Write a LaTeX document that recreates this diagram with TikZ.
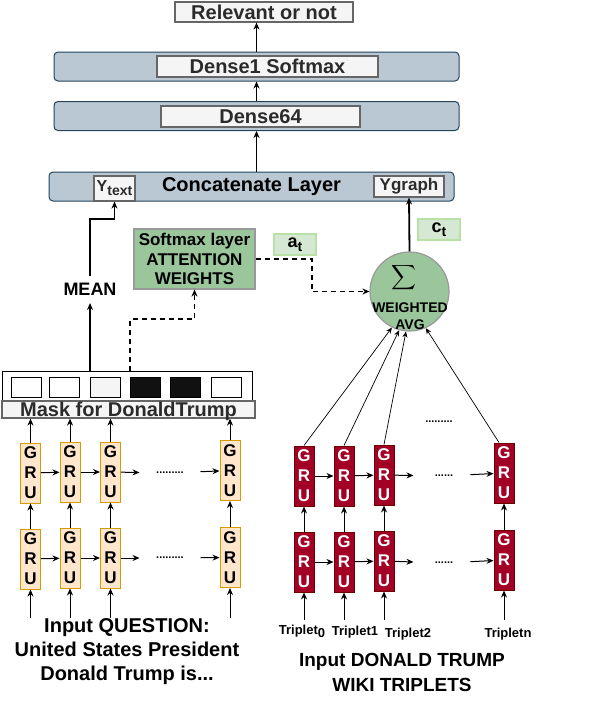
\documentclass[tikz,border=0pt]{standalone}
\usepackage{exscale}
\usepackage{fontspec}
\setmainfont{Liberation Sans}
\usetikzlibrary{positioning,arrows.meta}

\definecolor{layerfill}{HTML}{BAC8D3}
\definecolor{layerdraw}{HTML}{23445D}
\definecolor{boxfill}{HTML}{F5F5F5}
\definecolor{boxdraw}{HTML}{666666}
\definecolor{boxtext}{HTML}{2B2B2B}
\definecolor{gruqfill}{HTML}{FFE6CC}
\definecolor{gruqdraw}{HTML}{D79B00}
\definecolor{grutfill}{HTML}{A20025}
\definecolor{grutdraw}{HTML}{6F0000}
\definecolor{attfill}{HTML}{9BC59B}
\definecolor{attdraw}{HTML}{999999}
\definecolor{lightfill}{HTML}{D5E8D4}
\definecolor{lightdraw}{HTML}{B9E0A5}
\definecolor{maskdark}{HTML}{111111}

\tikzset{
  layer/.style={draw=layerdraw, fill=layerfill, rounded corners=4pt, minimum width=405pt, minimum height=29pt, inner sep=0pt},
  inbox/.style={draw=boxdraw, fill=boxfill, line width=1.2pt, text=boxtext, inner sep=0pt, font=\fontsize{20}{24}\selectfont\bfseries},
  gruq/.style={draw=gruqdraw, fill=gruqfill, line width=1pt, minimum width=20pt, minimum height=60pt, inner sep=0pt, align=center, font=\fontsize{17}{20}\selectfont\bfseries},
  grut/.style={gruq, draw=grutdraw, fill=grutfill, text=white},
  dotrow/.style={minimum width=60pt, inner sep=0pt, font=\fontsize{11}{11}\selectfont\bfseries},
  smallbox/.style={draw=lightdraw, fill=lightfill, line width=1.2pt, minimum width=42pt, minimum height=21pt, inner sep=0pt, font=\fontsize{18}{18}\selectfont\bfseries},
  dashline/.style={line width=1.3pt, dash pattern=on 5pt off 4pt},
  bigtext/.style={align=center, font=\fontsize{20}{24}\selectfont\bfseries},
}

\begin{document}
\begin{tikzpicture}[x=1pt, y=-1pt, >={Stealth[length=7pt,width=6pt]}, line width=1pt]
\useasboundingbox (0,0) rectangle (594,704);

% top of the network
\node[inbox, minimum width=178pt, minimum height=20pt] (relevant) at (264,12) {Relevant or not};
\node[layer] (dense1) at (256.5,66.5) {};
\node[inbox, minimum width=221pt, minimum height=21pt] (dense1in) at (267.5,66.5) {Dense1 Softmax};
\node[layer] (dense64) at (256.5,116) {};
\node[inbox, minimum width=199pt, minimum height=21pt] (dense64in) at (260.5,116.5) {Dense64};
\node[layer, font=\fontsize{20}{24}\selectfont\bfseries] (concat) at (251.5,186.5) {Concatenate Layer};
\node[inbox, minimum width=41pt, minimum height=25pt, font=\fontsize{16}{16}\selectfont\bfseries] (ytext) at (114.5,188.5) {Y\raisebox{-4pt}{\fontsize{14}{14}\selectfont text}};
\node[inbox, minimum width=70pt, minimum height=21pt, font=\fontsize{17}{17}\selectfont\bfseries] (ygraph) at (409,186.5) {Ygraph};

\draw[->] (dense1.north) -- (dense1.north |- relevant.south);
\draw[->] (dense64.north) -- (dense1.south);
\draw[->] (dense64.south |- concat.north) -- (dense64.south);

% mask and attention
\node[draw, minimum width=250pt, minimum height=29pt, inner sep=0pt] (mask) at (127,385.5) {};
\foreach \k/\x/\c in {1/26/white,2/64.5/white,3/105/boxfill,4/145.5/maskdark,5/185.5/maskdark,6/226/white}
  \node[draw, fill=\c, minimum width=30pt, minimum height=20pt, inner sep=0pt] (sq\k) at (\x,387) {};
\node[inbox, minimum width=253pt, text height=15pt, text depth=2pt] (masklabel) at (128.5,409.5) {Mask for DonaldTrump};

\node[font=\fontsize{18}{18}\selectfont\bfseries, minimum height=26pt, inner sep=0pt] (mean) at (90,289.5) {MEAN};
\draw[->, line width=1.8pt] (mask.north -| mean.south) -- (mean.south);
\draw[->, line width=1.8pt] (mean.north) |- (ytext.south |- 0,219) -- (ytext.south);

\node[draw=attdraw, fill=attfill, line width=1.2pt, minimum width=121pt, minimum height=60pt, inner sep=0pt, align=center,
      font=\fontsize{17}{19.5}\selectfont\bfseries] (softmax) at (194.5,259) {Softmax layer\\ATTENTION\\WEIGHTS};
\draw[->, dashline] ([xshift=3pt]mask.north) |- (softmax.south |- 0,319) -- (softmax.south);

\node[circle, draw=attdraw, fill=attfill, line width=1.2pt, minimum size=79pt, inner sep=0pt] (sumavg) at (409.5,291.5) {};
\node[inner sep=0pt, font=\fontsize{17}{17}\selectfont] (sumsign) at (404,278) {$\displaystyle\sum$};
\node[align=center, inner sep=0pt, font=\fontsize{14}{17}\selectfont\bfseries] (sumtext) at (410,316) {WEIGHTED\\AVG};
\draw[->, dashline] (softmax.east) -| (sumavg.west -| 312,0) -- (sumavg.west);
\draw[->, line width=1.8pt] (sumavg.north) -- (ygraph.south);

\node[smallbox] (at) at (295,244.5) {a\raisebox{-4pt}{\fontsize{14}{14}\selectfont t}};
\node[smallbox] (ct) at (439,229.5) {c\raisebox{-4pt}{\fontsize{14}{14}\selectfont t}};

% question encoder
\foreach \i/\x/\ya/\yb in {1/30.5/473/559,2/70/472/558,3/110.5/472/558,4/230/470.5/557.5} {
  \node[gruq] (qa\i) at (\x,\ya) {G\\R\\U};
  \node[gruq] (qb\i) at (\x,\yb) {G\\R\\U};
  \coordinate (qin\i) at (\x,618);
  \draw[->] (qb\i) -- (qa\i);
  \draw[->] (qin\i) -- (qb\i);
  \draw[->] (qa\i) -- (qa\i.north |- masklabel.south);
}
\node[dotrow] (dqa) at (170,473) {.........};
\node[dotrow] (dqb) at (170,558) {.........};
\draw[->] (qa1) -- (qa2);
\draw[->] (qa2) -- (qa3);
\draw[->] (qa3) -- (dqa);
\draw[->] (dqa) -- (qa4);
\draw[->] (qb1) -- (qb2);
\draw[->] (qb2) -- (qb3);
\draw[->] (qb3) -- (dqb);
\draw[->] (dqb) -- (qb4);
\node[bigtext] (question) at (127,652) {Input QUESTION:\\United States President\\Donald Trump is...};

% triplet encoder
\foreach \i/\x/\ya/\yb in {1/304/476/562,2/344/476/562,3/384/475/561,4/504/473/560} {
  \node[grut] (ta\i) at (\x,\ya) {G\\R\\U};
  \node[grut] (tb\i) at (\x,\yb) {G\\R\\U};
  \coordinate (tin\i) at (\x,620);
  \draw[->] (tb\i) -- (ta\i);
  \draw[->] (tin\i) -- (tb\i);
}
\node[dotrow] (dta) at (444,476) {......};
\node[dotrow] (dtb) at (444,563) {......};
\node[dotrow] (dtop) at (439,422) {.........};
\draw[->] (ta1) -- (ta2);
\draw[->] (ta2) -- (ta3);
\draw[->] (ta3) -- (dta);
\draw[->] (dta) -- (ta4);
\draw[->] (tb1) -- (tb2);
\draw[->] (tb2) -- (tb3);
\draw[->] (tb3) -- (dtb);
\draw[->] (dtb) -- (tb4);

\draw[->, line width=0.7pt, >={Stealth[length=6pt,width=5pt]}] (ta1.north) -- (sumavg.244);
\draw[->, line width=0.7pt, >={Stealth[length=6pt,width=5pt]}] (ta2.north) -- (sumavg.255);
\draw[->, line width=0.7pt, >={Stealth[length=6pt,width=5pt]}] (ta3.north) -- (sumavg.265);
\draw[->, line width=0.7pt, >={Stealth[length=6pt,width=5pt]}] ([xshift=-5pt]ta4.north) -- (sumavg.294);

\node[font=\fontsize{13}{13}\selectfont\bfseries, inner sep=0pt] (trip0) at (302,631) {Triplet\raisebox{-3pt}{0}};
\node[font=\fontsize{13}{13}\selectfont\bfseries, inner sep=0pt] (trip1) at (355,632) {Triplet1};
\node[font=\fontsize{13}{13}\selectfont\bfseries, inner sep=0pt] (trip2) at (408,634) {Triplet2};
\node[font=\fontsize{13}{13}\selectfont\bfseries, inner sep=0pt] (tripn) at (508,634) {Tripletn};
\node[bigtext, font=\fontsize{19}{25}\selectfont\bfseries] (wiki) at (402,672.5) {Input DONALD TRUMP\\WIKI TRIPLETS};
\end{tikzpicture}
\end{document}
